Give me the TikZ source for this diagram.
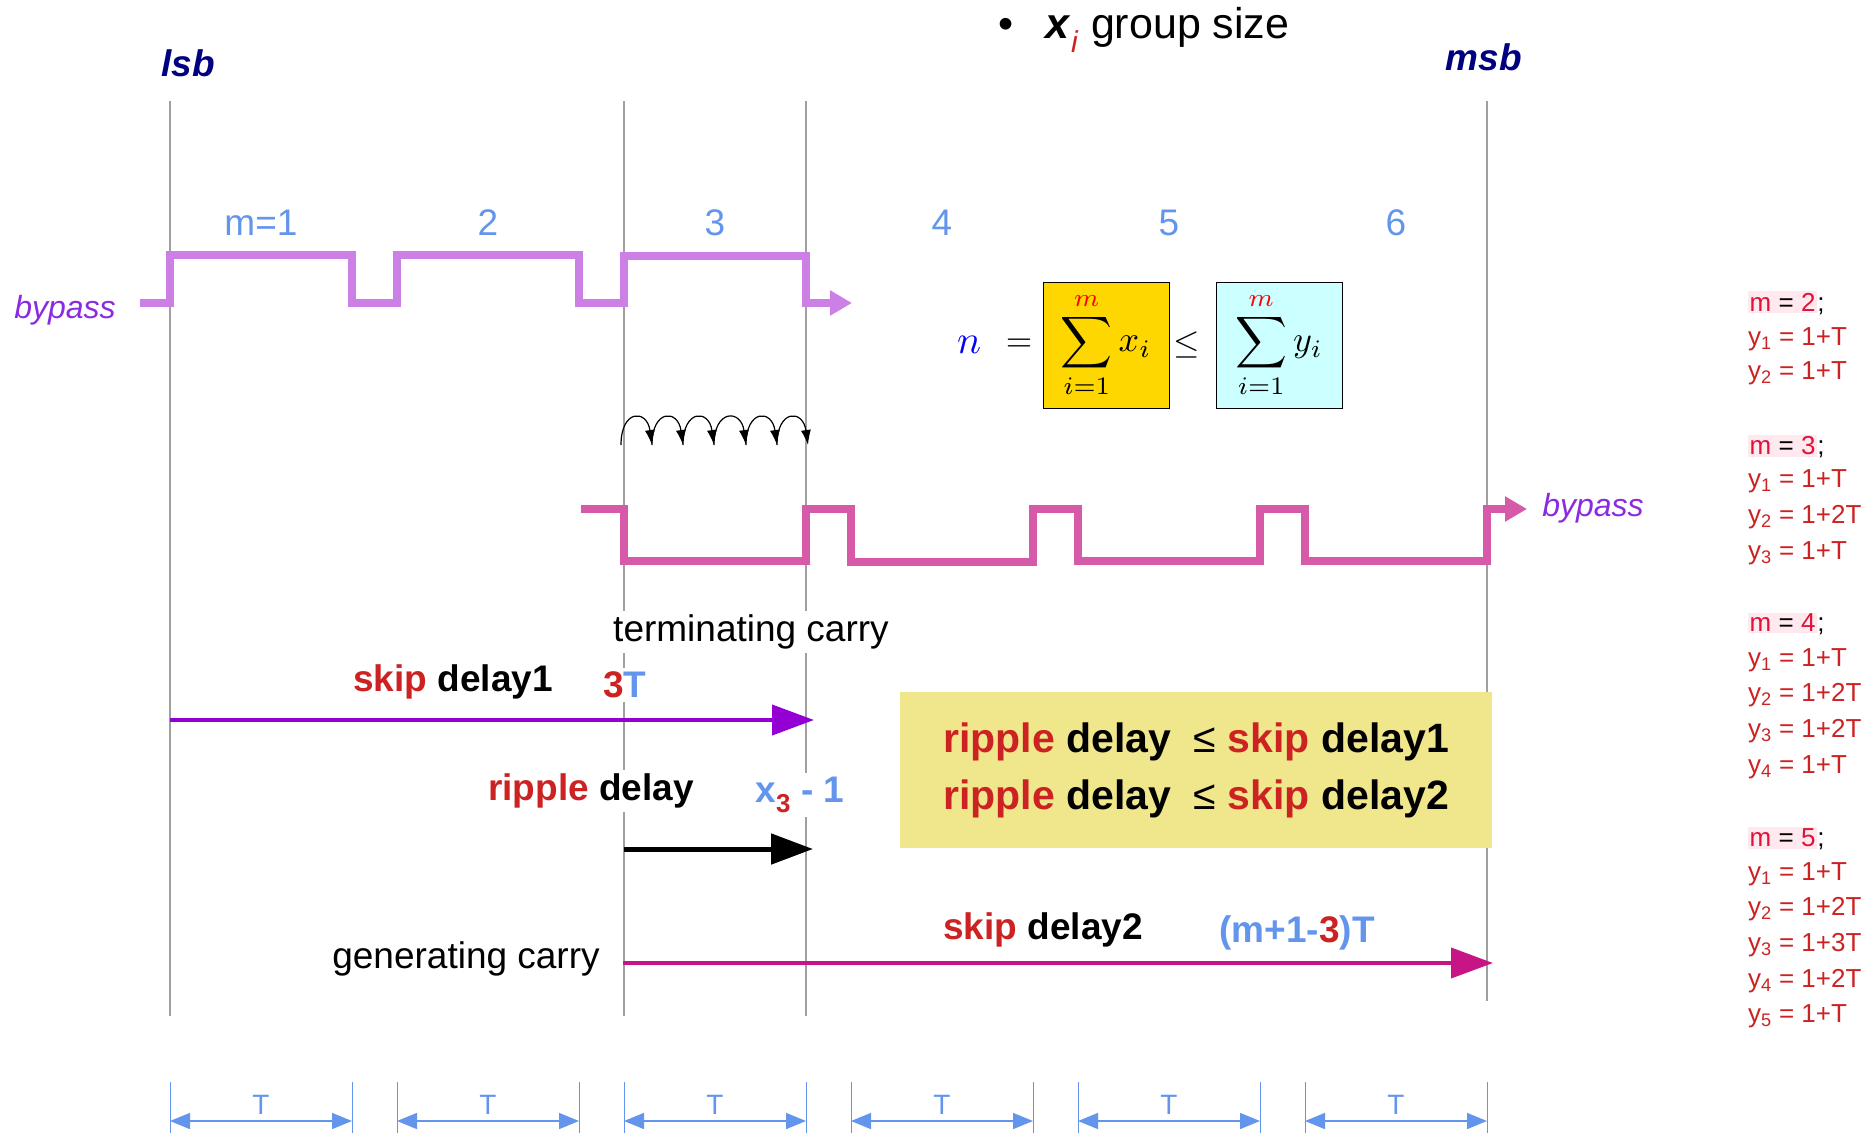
\documentclass[tikz,border=0pt]{standalone}
\usepackage[no-math]{fontspec}
\setmainfont{Liberation Sans}
\usepackage{graphicx}
\usetikzlibrary{arrows.meta}

\definecolor{lilac}{RGB}{204,128,230}
\definecolor{rosewave}{RGB}{214,90,168}
\definecolor{cornblue}{RGB}{100,149,237}
\definecolor{redtxt}{RGB}{204,34,34}
\definecolor{crim}{RGB}{220,20,60}
\definecolor{hilite}{RGB}{255,232,238}
\definecolor{violetarrow}{RGB}{148,0,211}
\definecolor{magarrow}{RGB}{199,21,133}
\definecolor{navytxt}{RGB}{0,0,128}
\definecolor{khakibox}{RGB}{240,230,140}
\definecolor{goldbox}{RGB}{255,215,0}
\definecolor{cyanbox}{RGB}{204,255,255}
\definecolor{bypasstxt}{RGB}{138,43,226}
\definecolor{gridgrey}{RGB}{160,160,160}

\tikzset{
  gridline/.style={draw=gridgrey, line width=1.4pt},
  wave/.style={line width=8pt},
  fatarrow/.style={line width=4pt, -{Triangle[length=42pt,width=30pt]}},
  hop/.style={line width=1.2pt, -{Latex[length=15pt,width=10pt]}},
  lbl/.style={font=\fontsize{37}{44}\selectfont\bfseries, fill=white, inner sep=4pt},
  txtlbl/.style={font=\fontsize{37}{44}\selectfont, fill=white, inner sep=4pt},
  colnum/.style={font=\fontsize{37}{44}\selectfont, text=cornblue},
  endlbl/.style={font=\fontsize{37}{44}\selectfont\bfseries\itshape, text=navytxt},
  bypasslbl/.style={font=\fontsize{32}{38}\selectfont\itshape, text=bypasstxt},
  sumbox/.style={draw=black, line width=0.8pt, minimum width=126pt, minimum height=126pt, inner sep=0pt},
  yline/.style={anchor=west, inner sep=0pt, font=\fontsize{26}{30}\selectfont, text=redtxt},
  mhead/.style={anchor=west, inner sep=1.5pt, fill=hilite, font=\fontsize{26}{30}\selectfont},
  semi/.style={anchor=base west, inner sep=0pt, font=\fontsize{26}{30}\selectfont},
  dimtick/.style={draw=cornblue, line width=1pt},
  dimarrow/.style={draw=cornblue, line width=1.5pt, {Triangle[length=20pt,width=16pt]}-{Triangle[length=20pt,width=16pt]}},
  tlbl/.style={font=\fontsize{28}{32}\selectfont, text=cornblue, inner sep=0pt},
}

\begin{document}
\begin{tikzpicture}[x=1pt,y=-1pt]
	\useasboundingbox (0,0) rectangle (1864,1133);

	% group borders
	\draw[gridline] (170,101) -- (170,1016);
	\draw[gridline] (624,101) -- (624,1016);
	\draw[gridline] (806,101) -- (806,1016);
	\draw[gridline] (1487,101) -- (1487,1001);

	\node[endlbl] (lsb) at (188,63) {lsb};
	\node[endlbl] (msb) at (1484,57) {msb};
	\node[anchor=west, font=\fontsize{43}{50}\selectfont] (head) at (995,30)
		{\textbullet\hspace{0.75em}\textbf{\textit{x}}\textsubscript{\textcolor{redtxt}{\textit{i}}} group size};

	\node[colnum] (g1) at (261,223) {m=1};
	\node[colnum] (g2) at (488,223) {2};
	\node[colnum] (g3) at (715,223) {3};
	\node[colnum] (g4) at (942,223) {4};
	\node[colnum] (g5) at (1169,223) {5};
	\node[colnum] (g6) at (1396,223) {6};

	% bypass waveforms
	\draw[wave][lilac,-{Triangle[length=22pt,width=24pt]}] (140,303) -- (170,303) -- (170,255) -- (352,255)
		-- (352,303) -- (397,303) -- (397,255) -- (579,255) -- (579,303) -- (624,303) -- (624,256)
		-- (806,256) -- (806,303) -- (852,303);
	\node[bypasslbl] (bpl) at (65,310) {bypass};

	\draw[wave][rosewave,-{Triangle[length=22pt,width=24pt]}] (581,509) -- (624,509) -- (624,561) -- (806,561)
		-- (806,509) -- (851,509) -- (851,562) -- (1033,562) -- (1033,509) -- (1078,509) -- (1078,561)
		-- (1260,561) -- (1260,509) -- (1305,509) -- (1305,561) -- (1487,561) -- (1487,509) -- (1527,509);
	\node[bypasslbl] (bpr) at (1593,508) {bypass};

	% formula
	\node (eqn) at (969,345) {\scalebox{4}{$\color{blue}n$}};
	\node (eqs) at (1019,345) {\scalebox{3.4}{$=$}};
	\node[sumbox, fill=goldbox] (sumx) at (1106,345) {\scalebox{3.6}{$\displaystyle\sum_{i=1}^{\textcolor{red}{m}} x_i$}};
	\node (leq) at (1187,345) {\scalebox{3.4}{$\leq$}};
	\node[sumbox, fill=cyanbox] (sumy) at (1279,345) {\scalebox{3.6}{$\displaystyle\sum_{i=1}^{\textcolor{red}{m}} y_i$}};

	% ripple hops
	\coordinate (h0) at (621,445);
	\coordinate (h1) at (652,445);
	\coordinate (h2) at (683,445);
	\coordinate (h3) at (714,445);
	\coordinate (h4) at (746,445);
	\coordinate (h5) at (777,445);
	\coordinate (h6) at (808,445);
	\draw[hop] (h0) .. controls +(0,-36) and +(-5,-36) .. (h1);
	\draw[hop] (h1) .. controls +(0,-36) and +(-5,-36) .. (h2);
	\draw[hop] (h2) .. controls +(0,-36) and +(-5,-36) .. (h3);
	\draw[hop] (h3) .. controls +(0,-36) and +(-5,-36) .. (h4);
	\draw[hop] (h4) .. controls +(0,-36) and +(-5,-36) .. (h5);
	\draw[hop] (h5) .. controls +(0,-36) and +(-5,-36) .. (h6);

	% delays
	\node[txtlbl] (term) at (751,632) {terminating carry};
	\node[lbl] (sd1) at (453,682) {\textcolor{redtxt}{skip} delay1};
	\node[lbl] (sd1t) at (625,685) {\textcolor{redtxt}{3}\textcolor{cornblue}{T}};
	\coordinate (sd1a) at (170,720);
	\coordinate (sd1b) at (814,720);
	\draw[fatarrow][violetarrow] (sd1a) -- (sd1b);

	\node[lbl] (rd) at (591,791) {\textcolor{redtxt}{ripple} delay};
	\node[lbl, text=cornblue] (rdt) at (800,795) {x\textsubscript{\textcolor{redtxt}{3}} - 1};
	\coordinate (rda) at (624,849);
	\coordinate (rdb) at (813,849);
	\draw[fatarrow][black, line width=5pt] (rda) -- (rdb);

	\node[txtlbl] (gen) at (466,959) {generating carry};
	\node[lbl] (sd2) at (1043,930) {\textcolor{redtxt}{skip} delay2};
	\node[lbl, text=cornblue] (sd2t) at (1297,933) {(m+1-\textcolor{redtxt}{3})T};
	\coordinate (sd2a) at (623,963);
	\coordinate (sd2b) at (1493,963);
	\draw[fatarrow][magarrow] (sd2a) -- (sd2b);

	\node[fill=khakibox, minimum width=592pt, minimum height=156pt, align=center,
		font=\fontsize{41}{57}\selectfont\bfseries] (rule) at (1196,770)
		{\textcolor{redtxt}{ripple} delay\ \ {\mdseries ≤} \textcolor{redtxt}{skip} delay1\\
		 \textcolor{redtxt}{ripple} delay\ \ {\mdseries ≤} \textcolor{redtxt}{skip} delay2};

	% y values
	\node[mhead] (m2) at (1748,302) {\textcolor{crim}{m} = \textcolor{crim}{2}};
	\node[semi] (m2s) at (m2.base east) {;};
	\node[yline] (y21) at (1748,339) {y\textsubscript{1} = 1+T};
	\node[yline] (y22) at (1748,373) {y\textsubscript{2} = 1+T};

	\node[mhead] (m3) at (1748,446) {\textcolor{crim}{m} = \textcolor{crim}{3}};
	\node[semi] (m3s) at (m3.base east) {;};
	\node[yline] (y31) at (1748,481) {y\textsubscript{1} = 1+T};
	\node[yline] (y32) at (1748,517) {y\textsubscript{2} = 1+2T};
	\node[yline] (y33) at (1748,553) {y\textsubscript{3} = 1+T};

	\node[mhead] (m4) at (1748,623) {\textcolor{crim}{m} = \textcolor{crim}{4}};
	\node[semi] (m4s) at (m4.base east) {;};
	\node[yline] (y41) at (1748,660) {y\textsubscript{1} = 1+T};
	\node[yline] (y42) at (1748,695) {y\textsubscript{2} = 1+2T};
	\node[yline] (y43) at (1748,731) {y\textsubscript{3} = 1+2T};
	\node[yline] (y44) at (1748,767) {y\textsubscript{4} = 1+T};

	\node[mhead] (m5) at (1748,838) {\textcolor{crim}{m} = \textcolor{crim}{5}};
	\node[semi] (m5s) at (m5.base east) {;};
	\node[yline] (y51) at (1748,874) {y\textsubscript{1} = 1+T};
	\node[yline] (y52) at (1748,909) {y\textsubscript{2} = 1+2T};
	\node[yline] (y53) at (1748,945) {y\textsubscript{3} = 1+3T};
	\node[yline] (y54) at (1748,981) {y\textsubscript{4} = 1+2T};
	\node[yline] (y55) at (1748,1016) {y\textsubscript{5} = 1+T};

	% T per group
	\draw[dimtick] (170,1082) -- (170,1133);
	\draw[dimtick] (352,1082) -- (352,1133);
	\draw[dimarrow] (170,1121) -- (352,1121);
	\node[tlbl] (t1) at (261,1105) {T};

	\draw[dimtick] (397,1082) -- (397,1133);
	\draw[dimtick] (579,1082) -- (579,1133);
	\draw[dimarrow] (397,1121) -- (579,1121);
	\node[tlbl] (t2) at (488,1105) {T};

	\draw[dimtick] (624,1082) -- (624,1133);
	\draw[dimtick] (806,1082) -- (806,1133);
	\draw[dimarrow] (624,1121) -- (806,1121);
	\node[tlbl] (t3) at (715,1105) {T};

	\draw[dimtick] (851,1082) -- (851,1133);
	\draw[dimtick] (1033,1082) -- (1033,1133);
	\draw[dimarrow] (851,1121) -- (1033,1121);
	\node[tlbl] (t4) at (942,1105) {T};

	\draw[dimtick] (1078,1082) -- (1078,1133);
	\draw[dimtick] (1260,1082) -- (1260,1133);
	\draw[dimarrow] (1078,1121) -- (1260,1121);
	\node[tlbl] (t5) at (1169,1105) {T};

	\draw[dimtick] (1305,1082) -- (1305,1133);
	\draw[dimtick] (1487,1082) -- (1487,1133);
	\draw[dimarrow] (1305,1121) -- (1487,1121);
	\node[tlbl] (t6) at (1396,1105) {T};
\end{tikzpicture}
\end{document}
